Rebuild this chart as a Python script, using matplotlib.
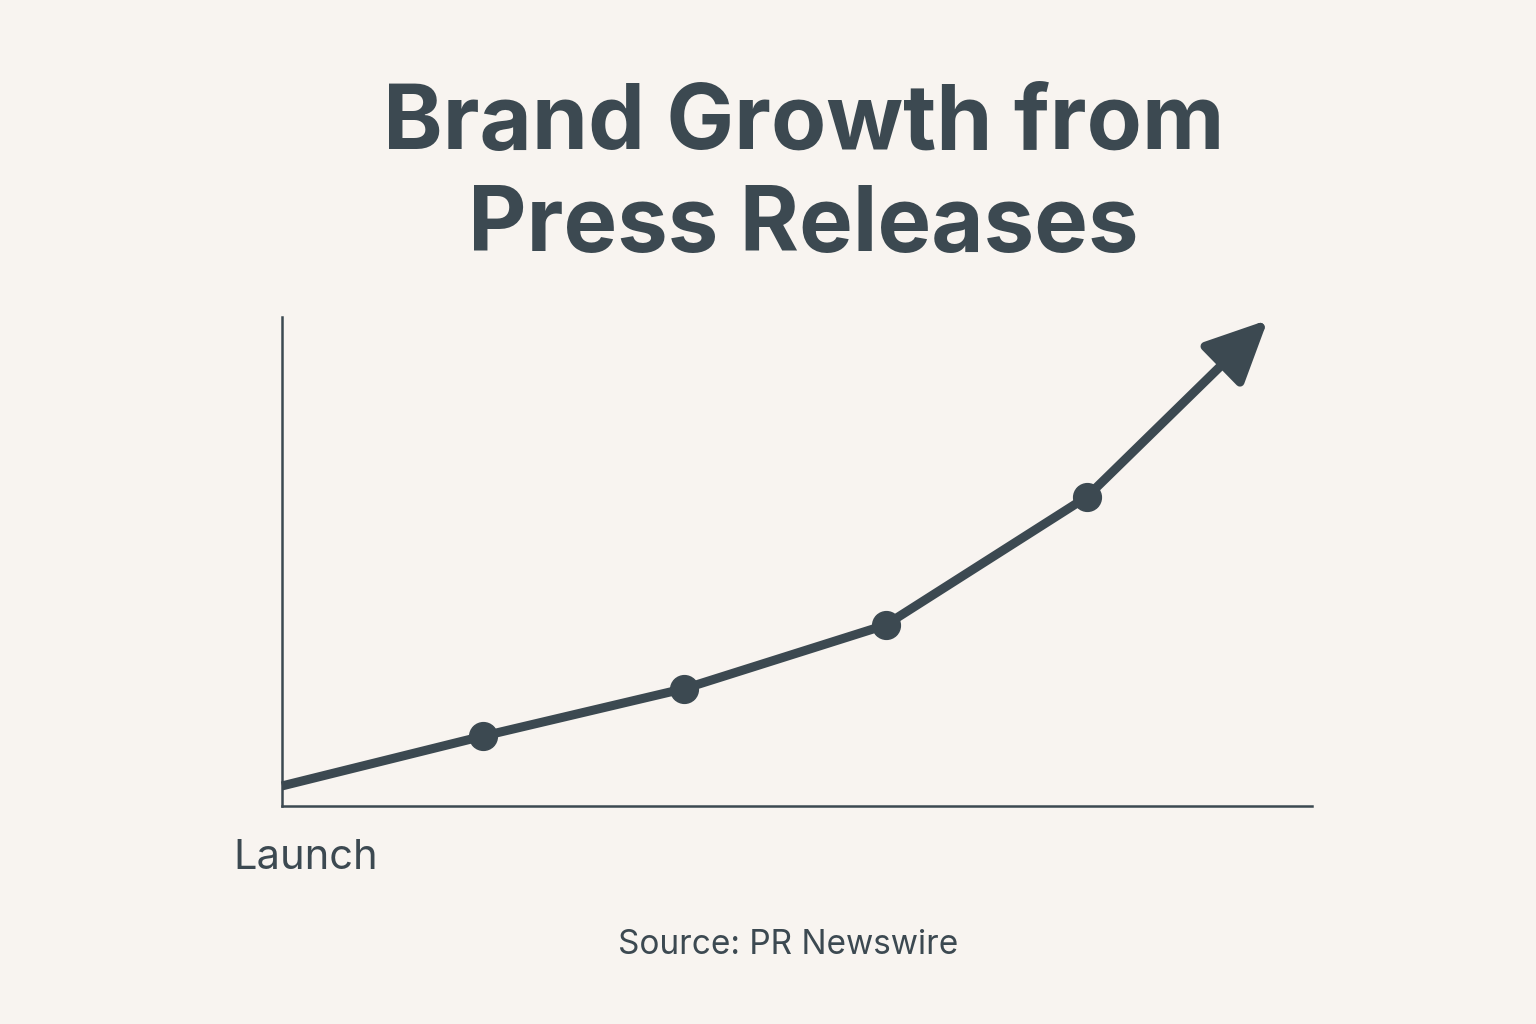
import matplotlib.pyplot as plt

# growth index per press release (relative units)
release_idx = [0, 1, 2, 3, 4]
growth = [4.1, 14.3, 24.0, 37.0, 63.2]
arrow_tip = (4.9, 99.4)

ink = '#3c4951'
bg = '#f8f4f0'

plt.rcParams['font.family'] = ['Inter', 'DejaVu Sans']

fig = plt.figure(figsize=(15.36, 10.24), dpi=100, facecolor=bg)
ax = fig.add_axes([0.1836, 0.2129, 0.6706, 0.4775])
ax.set_facecolor(bg)
ax.set_xlim(0, 5.12)
ax.set_ylim(0, 100)

for s in ['top', 'right']:
    ax.spines[s].set_visible(False)
for s in ['left', 'bottom']:
    ax.spines[s].set_color(ink)
    ax.spines[s].set_linewidth(1.8)
ax.set_xticks([])
ax.set_yticks([])

ax.plot(release_idx, growth, color=ink, lw=6.5, solid_capstyle='butt', clip_on=False)
ax.plot(release_idx[1:], growth[1:], 'o', color=ink, ms=20, clip_on=False)
ax.annotate('', xy=arrow_tip, xytext=(release_idx[-1], growth[-1]),
            arrowprops=dict(arrowstyle='-|>,head_length=0.95,head_width=0.45',
                            color=ink, lw=6.5, mutation_scale=40, shrinkA=0, shrinkB=0),
            annotation_clip=False)

fig.text(0.523, 0.828, 'Brand Growth from\nPress Releases', ha='center', va='center',
         fontsize=65, fontweight='bold', color=ink, linespacing=1.27)
fig.text(0.152, 0.162, 'Launch', ha='left', va='center', fontsize=30, color=ink)
fig.text(0.513, 0.077, 'Source: PR Newswire', ha='center', va='center', fontsize=24, color=ink)

fig.savefig('out.png', dpi=100, facecolor=bg)
